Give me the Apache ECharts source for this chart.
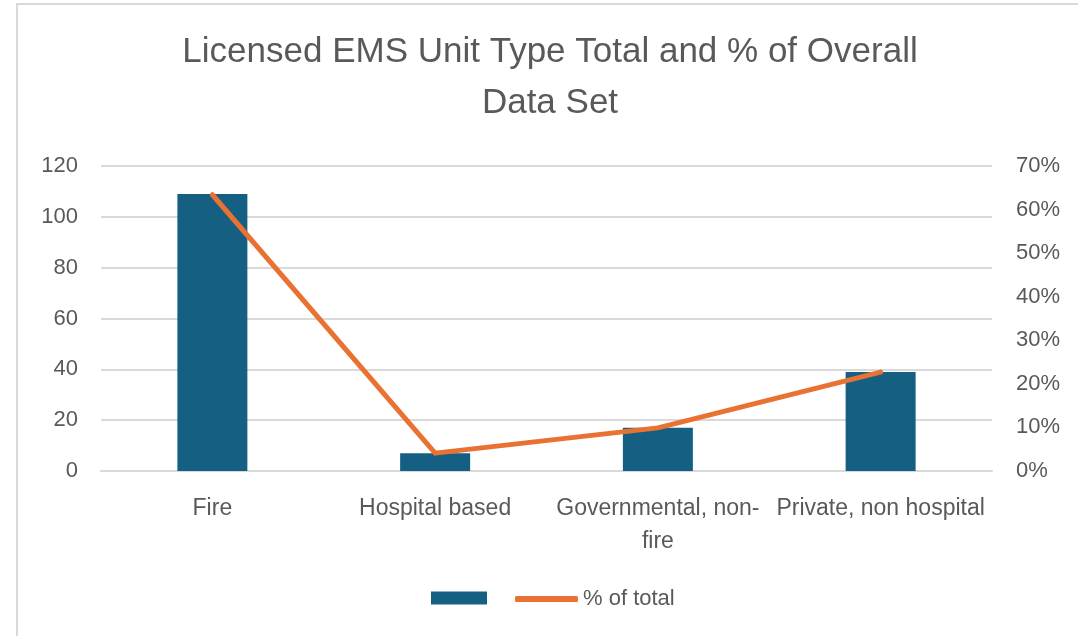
<!DOCTYPE html>
<html>
<head>
<meta charset="utf-8">
<script src="https://cdn.jsdelivr.net/npm/echarts@6/dist/echarts.min.js"></script>
<style>
    html, body { margin: 0; padding: 0; background: #fff; }
    #chart { width: 1078px; height: 636px; }
</style>
</head>
<body>
<div id="chart"></div>
<script>
// 数据
const categories = ['Fire', 'Hospital based', 'Governmental, non-\nfire', 'Private, non hospital'];
const unitTotals = [109, 7, 17, 39];
const pctOfTotal = [63.4, 4.1, 9.9, 22.7];
const leftTicks = [0, 20, 40, 60, 80, 100, 120];
const rightTicks = [0, 10, 20, 30, 40, 50, 60, 70];

const textColor = '#595959';
const fontFamily = '"Liberation Sans", Arial, sans-serif';

const chart = echarts.init(document.getElementById('chart'), null, { renderer: 'canvas' });

const option = {
    backgroundColor: '#fff',
    animation: false,
    graphic: [
        // 外框
        {
            type: 'rect',
            shape: { x: 17, y: 4, width: 1100, height: 700 },
            style: { fill: 'none', stroke: '#d9d9d9', lineWidth: 2 },
            silent: true,
        },
        // 标题（略偏右居中）
        {
            type: 'text',
            x: 550,
            y: 27,
            silent: true,
            style: {
                text: 'Licensed EMS Unit Type Total and % of Overall\nData Set',
                align: 'center',
                verticalAlign: 'top',
                fill: textColor,
                fontFamily: fontFamily,
                fontSize: 35,
                lineHeight: 51,
            },
        },
    ],
    legend: [
        {
            data: [{ name: ' ', icon: 'rect' }],
            left: 426,
            top: 582,
            itemWidth: 56,
            itemHeight: 13,
            textStyle: { color: textColor, fontFamily: fontFamily, fontSize: 22 },
        },
        {
            data: [{ name: '% of total', icon: 'roundRect' }],
            left: 510,
            top: 583,
            itemWidth: 63,
            itemHeight: 6,
            textStyle: { color: textColor, fontFamily: fontFamily, fontSize: 22 },
        },
    ],
    grid: {
        left: 101,
        right: 86,
        top: 166,
        bottom: 165,
    },
    xAxis: {
        type: 'category',
        data: categories,
        axisLine: { lineStyle: { color: '#d9d9d9', width: 2 } },
        axisTick: { show: false },
        axisLabel: {
            color: textColor,
            fontFamily: fontFamily,
            fontSize: 23,
            margin: 21,
            lineHeight: 33,
            interval: 0,
        },
    },
    yAxis: [
        {
            type: 'value',
            min: leftTicks[0],
            max: leftTicks[leftTicks.length - 1],
            interval: 20,
            axisLine: { show: false },
            axisTick: { show: false },
            splitLine: { lineStyle: { color: '#d9d9d9', width: 2 } },
            axisLabel: {
                color: textColor,
                fontFamily: fontFamily,
                fontSize: 22,
                margin: 23,
            },
        },
        {
            type: 'value',
            min: rightTicks[0],
            max: rightTicks[rightTicks.length - 1],
            interval: 10,
            axisLine: { show: false },
            axisTick: { show: false },
            splitLine: { show: false },
            axisLabel: {
                color: textColor,
                fontFamily: fontFamily,
                fontSize: 22,
                margin: 24,
                formatter: '{value}%',
            },
        },
    ],
    series: [
        {
            name: ' ',
            type: 'bar',
            yAxisIndex: 0,
            data: unitTotals,
            barWidth: 70,
            itemStyle: { color: '#156082' },
        },
        {
            name: '% of total',
            type: 'line',
            yAxisIndex: 1,
            data: pctOfTotal,
            symbol: 'none',
            lineStyle: { color: '#e97132', width: 5, cap: 'round', join: 'round' },
            itemStyle: { color: '#e97132' },
        },
    ],
};

chart.setOption(option);
</script>
</body>
</html>
